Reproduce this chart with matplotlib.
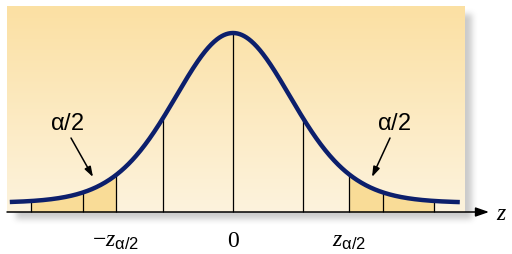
import numpy as np
import matplotlib
matplotlib.use("Agg")
import matplotlib.pyplot as plt
from math import gamma, pi, sqrt

# positions of the vertical guide lines (in std units)
cuts = [-3.37, -2.5, -1.95, -1.17, 0.0, 1.17, 1.93, 2.5, 3.35]
tail_left = [-3.37, -1.95]
tail_right = [1.93, 3.35]
z_lo, z_hi = -3.72, 3.78
dof = 15               # bell shape, tails a bit heavier than gaussian
lift = 0.021           # curve floats a little above the axis
tick_pos = [-1.95, 0.0, 1.93]
tick_labels = [r'$-z_{\mathsf{\alpha/2}}$', r'$0$', r'$z_{\mathsf{\alpha/2}}$']

plt.rcParams['mathtext.fontset'] = 'custom'
plt.rcParams['mathtext.rm'] = 'Liberation Serif'
plt.rcParams['mathtext.it'] = 'Liberation Serif:italic'
plt.rcParams['mathtext.sf'] = 'Liberation Sans'

def curve(z):
    c = gamma((dof + 1) / 2) / (sqrt(dof * pi) * gamma(dof / 2))
    return lift + c * (1 + z**2 / dof) ** (-(dof + 1) / 2)

W, H = 512, 254
px = 60.0                      # pixels per std unit
k = curve(0.0) / 179.0         # data units per pixel (vertical)
def X(p): return (p - 233) / px
def Y(p): return (212 - p) * k

fig = plt.figure(figsize=(W / 100, H / 100), dpi=100)
ax = fig.add_axes([0, 0, 1, 1])
ax.set_xlim(X(0), X(W))
ax.set_ylim(Y(H), Y(0))
ax.axis('off')

# drop shadow behind the panel
sh = np.zeros((H, W))
sh[14:219, 16:472] = 1.0
ker = np.ones(7) / 7
for _ in range(2):
    sh = np.apply_along_axis(lambda r: np.convolve(r, ker, mode='same'), 1, sh)
    sh = np.apply_along_axis(lambda c: np.convolve(c, ker, mode='same'), 0, sh)
rgba = np.zeros((H, W, 4))
rgba[..., :3] = 0.55
rgba[..., 3] = sh * 0.45
ax.imshow(rgba, extent=[X(0), X(W), Y(H), Y(0)], aspect='auto', zorder=0)

# panel with vertical gradient
top = np.array([251, 224, 163]) / 255
bot = np.array([253, 243, 221]) / 255
t = np.linspace(0, 1, 100)[:, None]
grad = (top * (1 - t) + bot * t)[:, None, :]
ax.imshow(grad, extent=[X(7), X(465), Y(212), Y(6)], aspect='auto', zorder=1)

# shaded tails
zz = np.linspace(z_lo, z_hi, 600)
for a, b in (tail_left, tail_right):
    m = (zz >= a) & (zz <= b)
    ax.fill_between(zz[m], 0, curve(zz[m]), color='#f9dc97', lw=0, zorder=2)

# guide lines
ax.vlines(cuts, 0, curve(np.array(cuts)), color='black', lw=0.9, zorder=3)

# the curve
ax.plot(zz, curve(zz), color='#0c1f6c', lw=3.2, solid_capstyle='butt', zorder=4)

# horizontal axis with arrow
ax.annotate('', xy=(X(489), 0), xytext=(X(7), 0),
            arrowprops=dict(arrowstyle='-|>,head_length=0.8,head_width=0.28',
                            color='black', lw=1.1, shrinkA=0, shrinkB=0), zorder=5)
ax.text(X(501), Y(214), 'z', fontfamily='Liberation Serif', fontstyle='italic',
        fontsize=17, ha='center', va='center')

for p, lab in zip(tick_pos, tick_labels):
    ax.text(p, Y(240), lab, fontsize=17, ha='center', va='center')

# alpha/2 callouts
arrow = dict(arrowstyle='-|>,head_length=0.6,head_width=0.2',
             color='black', lw=1.1, shrinkA=0, shrinkB=0)
ax.text(X(67), Y(123), r'$\mathsf{\alpha/2}$', fontsize=17, ha='center', va='center')
ax.annotate('', xy=(X(93), Y(177)), xytext=(X(71), Y(138)), arrowprops=arrow)
ax.text(X(394), Y(123), r'$\mathsf{\alpha/2}$', fontsize=17, ha='center', va='center')
ax.annotate('', xy=(X(372), Y(177)), xytext=(X(390), Y(138)), arrowprops=arrow)

fig.savefig('out.png', dpi=100)
